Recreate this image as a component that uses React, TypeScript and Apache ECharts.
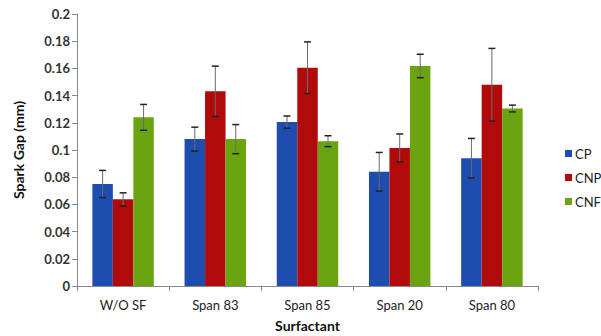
import React, { useEffect, useRef } from "react";
import * as echarts from "echarts";

const categories = ["W/O SF", "Span 83", "Span 85", "Span 20", "Span 80"];
const seriesNames = ["CP", "CNP", "CNF"];
const cpValues = [0.075, 0.108, 0.1205, 0.084, 0.094];
const cnpValues = [0.0637, 0.1432, 0.1605, 0.1015, 0.148];
const cnfValues = [0.124, 0.108, 0.1065, 0.1618, 0.1305];
const cpErrors = [0.01, 0.0088, 0.0045, 0.0142, 0.0145];
const cnpErrors = [0.0048, 0.0185, 0.019, 0.0103, 0.0267];
const cnfErrors = [0.0095, 0.0107, 0.004, 0.0086, 0.0025];
const colors = ["#1E4DB0", "#B00A0A", "#6AA511"];

const values = [cpValues, cnpValues, cnfValues];
const errors = [cpErrors, cnpErrors, cnfErrors];

export default function App() {
  const ref = useRef<HTMLDivElement>(null);
  useEffect(() => {
    if (!ref.current) return;
    const chart = echarts.init(ref.current, undefined, { renderer: "svg" });
    const font = "Lato, 'Open Sans', sans-serif";
    const barSeries = seriesNames.map((name, i) => ({
      name,
      type: "bar",
      data: values[i],
      itemStyle: { color: colors[i] },
      barGap: "0%",
      barCategoryGap: "33.33%",
      z: 2,
    }));
    const errSeries = seriesNames.map((name, si) => ({
      name: name + "_err",
      type: "custom",
      z: 5,
      silent: true,
      data: values[si].map((v, ci) => [ci, v, errors[si][ci]]),
      encode: { x: 0, y: 1 },
      renderItem: (params: any, api: any) => {
        const ci = api.value(0);
        const v = api.value(1);
        const e = api.value(2);
        const band = api.size([1, 0])[0];
        const w = band / 4.5;
        const off = (si - 1) * w;
        const hi = api.coord([ci, v + e]);
        const lo = api.coord([ci, v - e]);
        const x = hi[0] + off;
        const cap = 3.5;
        return {
          type: "group",
          children: [
            { type: "line", shape: { x1: x, y1: hi[1], x2: x, y2: lo[1] }, style: { stroke: "#6a6a6a", lineWidth: 1 } },
            { type: "line", shape: { x1: x - cap, y1: hi[1], x2: x + cap, y2: hi[1] }, style: { stroke: "#222", lineWidth: 1.5 } },
            { type: "line", shape: { x1: x - cap, y1: lo[1], x2: x + cap, y2: lo[1] }, style: { stroke: "#222", lineWidth: 1.5 } },
          ],
        };
      },
    }));
    chart.setOption({
      animation: false,
      grid: { left: 77, right: 63, top: 14, bottom: 50, outerBoundsMode: "none", containLabel: false },
      legend: {
        data: seriesNames.map((n, i) => ({ name: n, itemStyle: { color: colors[i] } })),
        orient: "vertical",
        left: 560,
        top: 142,
        itemWidth: 7,
        itemHeight: 7,
        itemGap: 11,
        icon: "rect",
        textStyle: { fontFamily: font, fontSize: 13, color: "#222", padding: [0, 0, 0, -2] },
      },
      xAxis: {
        type: "category",
        data: categories,
        name: "Surfactant",
        nameLocation: "middle",
        nameGap: 32,
        nameTextStyle: { fontFamily: font, fontSize: 14, fontWeight: "bold", color: "#111" },
        axisLine: { lineStyle: { color: "#888" } },
        axisTick: { show: true, alignWithLabel: false, length: 5, lineStyle: { color: "#888" } },
        axisLabel: { fontFamily: font, fontSize: 13, color: "#222", margin: 12 },
      },
      yAxis: {
        type: "value",
        min: 0,
        max: 0.2,
        interval: 0.02,
        name: "Spark Gap (mm)",
        nameLocation: "middle",
        nameGap: 52,
        nameTextStyle: { fontFamily: font, fontSize: 14, fontWeight: "bold", color: "#111" },
        axisLine: { show: true, lineStyle: { color: "#888" } },
        axisTick: { show: true, length: 5, lineStyle: { color: "#888" } },
        splitLine: { show: false },
        axisLabel: {
          fontFamily: font,
          fontSize: 13,
          fontWeight: "bold",
          color: "#333",
          margin: 7,
          formatter: (v: number) => String(parseFloat(v.toFixed(2))),
        },
      },
      series: [...barSeries, ...errSeries],
    });
    return () => chart.dispose();
  }, []);
  return <div ref={ref} style={{ width: 601, height: 336, position: "absolute", left: 0, top: 0 }} />;
}
